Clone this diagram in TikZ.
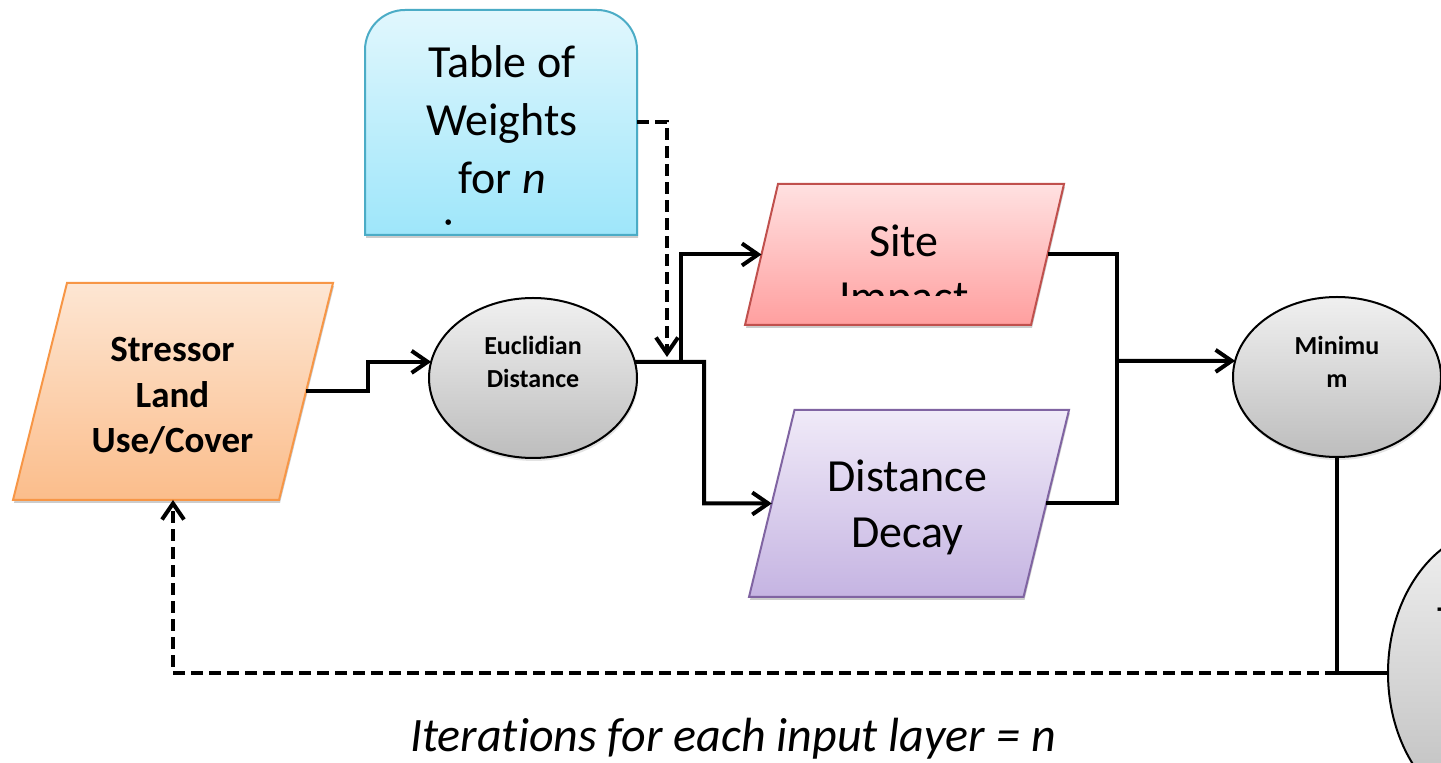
\documentclass[tikz,border=0pt]{standalone}
\usepackage{fontspec}
\setmainfont{Carlito}[Ligatures=NoCommon]
\usetikzlibrary{shapes.geometric,arrows.meta,shadows}
\definecolor{strotop}{HTML}{FDE6D3}
\definecolor{strobot}{HTML}{FBBD8B}
\definecolor{stroline}{HTML}{F79646}
\definecolor{tabtop}{HTML}{E1F7FD}
\definecolor{tabbot}{HTML}{9EE6FA}
\definecolor{tabline}{HTML}{4BACC6}
\definecolor{sitetop}{HTML}{FFE1E1}
\definecolor{sitebot}{HTML}{FF9F9F}
\definecolor{siteline}{HTML}{C0504D}
\definecolor{dectop}{HTML}{F0EAF8}
\definecolor{decbot}{HTML}{C5B4E2}
\definecolor{decline}{HTML}{8064A2}
\definecolor{graytop}{HTML}{F0F0F0}
\definecolor{graybot}{HTML}{BDBDBD}
\newcommand\mystack[1]{\begin{tabular}[t]{@{}c@{}}#1\end{tabular}}
\newcommand\parapath[2]{(#1.south west) -- ([xshift=#2]#1.north west) -- (#1.north east) -- ([xshift=-#2]#1.south east) -- cycle}
\begin{document}
\begin{tikzpicture}[x=0.5pt,y=-0.5pt,
  conn/.style={line width=2pt},
  dconn/.style={line width=2pt, dash pattern=on 6pt off 3pt},
  arr/.style={-{Straight Barb[length=8pt,width=11pt]}},
  shad/.style={drop shadow={opacity=0.22,shadow xshift=0.5pt,shadow yshift=-1.5pt}},
  boxnode/.style={rectangle, inner sep=0pt, outer sep=0pt},
  shadowfill/.style={fill=black, opacity=0.2, transform canvas={shift={(0.5pt,-1.5pt)}}},
  gcirc/.style={ellipse, draw=black, line width=1pt, top color=graytop, bottom color=graybot, inner sep=0pt, outer sep=0pt, shad},
  txt/.style={inner sep=0pt, outer sep=0pt, anchor=base},
]
\useasboundingbox (0,0) rectangle (1441,763);
\fill[white] (0,0) rectangle (1441,763);
\clip (0,0) rectangle (1441,763);

% ---- Table of weights
\node[boxnode, minimum width=136pt, minimum height=112.5pt] (table) at (501,122.5) {};
\fill[shadowfill]
  (table.south west) -- ([yshift=-20pt]table.north west) arc[start angle=180,end angle=90,radius=20pt]
  -- ([xshift=-20pt]table.north east) arc[start angle=90,end angle=0,radius=20pt] -- (table.south east) -- cycle;
\shade[top color=tabtop, bottom color=tabbot, draw=tabline, line width=1pt]
  (table.south west) -- ([yshift=-20pt]table.north west) arc[start angle=180,end angle=90,radius=20pt]
  -- ([xshift=-20pt]table.north east) arc[start angle=90,end angle=0,radius=20pt] -- (table.south east) -- cycle;
\begin{scope}
  \clip (366,11) rectangle (636,228.5);
  \node[txt] (table-t) at (502,78) {\fontsize{23}{29}\selectfont\mystack{Table of\\Weights\\for \textit{n}\\i\phantom{nputs}}};
\end{scope}

% ---- Stressor
\node[boxnode, minimum width=160pt, minimum height=108.5pt] (stressor) at (173,391.5) {};
\fill[shadowfill] \parapath{stressor}{27pt};
\shade[top color=strotop, bottom color=strobot, draw=stroline, line width=1pt] \parapath{stressor}{27pt};
\coordinate (stressor-e) at ([xshift=-13.5pt]stressor.east);
\node[txt] (stressor-t) at (172.5,362) {\bfseries\fontsize{18.5}{22.75}\selectfont\mystack{Stressor\\Land\\Use/Cover}};

% ---- Euclidian distance
\node[gcirc, minimum width=104pt, minimum height=80pt] (euclid) at (533,378) {};
\node[txt] (euclid-t) at (533,355) {\bfseries\fontsize{13}{16.5}\selectfont\mystack{Euclidian\\Distance}};

% ---- Site impact
\node[boxnode, minimum width=159.5pt, minimum height=70.5pt] (site) at (904.5,254.5) {};
\fill[shadowfill] \parapath{site}{16.5pt};
\shade[top color=sitetop, bottom color=sitebot, draw=siteline, line width=1pt] \parapath{site}{16.5pt};
\coordinate (site-w) at ([xshift=8.25pt]site.west);
\coordinate (site-e) at ([xshift=-8.25pt]site.east);
\begin{scope}
  \clip (740,180) rectangle (1070,296);
  \node[txt] (site-t) at (904,257) {\fontsize{23}{28}\selectfont\mystack{Site\\Impact}};
\end{scope}

% ---- Distance decay
\node[boxnode, minimum width=160pt, minimum height=93.5pt] (decay) at (909,503.5) {};
\fill[shadowfill] \parapath{decay}{22.75pt};
\shade[top color=dectop, bottom color=decbot, draw=decline, line width=1pt] \parapath{decay}{22.75pt};
\coordinate (decay-w) at ([xshift=11.4pt]decay.west);
\coordinate (decay-e) at ([xshift=-11.4pt]decay.east);
\node[txt] (decay-t) at (907.5,492) {\fontsize{23}{28}\selectfont\mystack{Distance\\Decay}};

% ---- Minimum
\node[gcirc, minimum width=104pt, minimum height=80pt] (minimum) at (1337,377) {};
\node[txt] (minimum-t) at (1337,355) {\bfseries\fontsize{13}{16.5}\selectfont\mystack{Minimu\\m}};

% ---- Total (cut off at the right)
\node[gcirc, minimum width=112pt, minimum height=145pt] (total) at (1500,673) {};
\node[txt, anchor=base west] (total-t) at (1437,638) {\fontsize{23}{28}\selectfont T};

% ---- Caption
\node[txt] (caption) at (733,752) {\itshape\fontsize{24}{29}\selectfont Iterations for each input layer = n};

% ---- Connectors
\coordinate (j1) at (681,362);
\coordinate (j2) at (704,362);
\coordinate (w) at (667,357);
\coordinate (j3) at (1117,361);
\coordinate (j4) at (1337,673);

\draw[conn,arr] (stressor-e) -- ++(62,0) |- (euclid.171);
\draw[conn,arr] (euclid.9) -- (j2) |- (decay-w);
\draw[conn,arr] (j1) |- (site-w);
\draw[dconn,arr] (table.east) -| (w);
\draw[conn] (site-e) -| (j3);
\draw[conn] (decay-e) -| (j3);
\draw[conn,arr] (j3) -- (minimum.171);
\draw[conn] (minimum.south) -- (j4) -- (total.west);
\draw[dconn,arr] (j4) -| (stressor.south);
\end{tikzpicture}
\end{document}
